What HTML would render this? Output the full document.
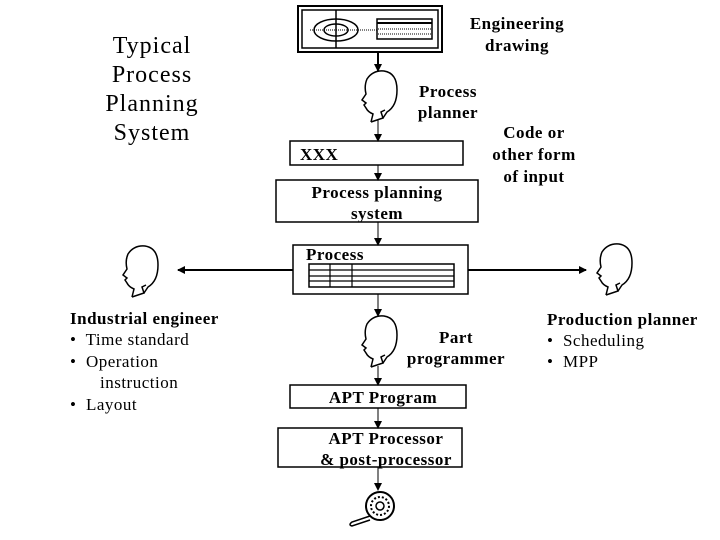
<!DOCTYPE html>
<html><head><style>
body{margin:0;background:#fff;}
svg{display:block;}
text{font-family:"Liberation Serif",serif;fill:#000;}
.b{font-weight:bold;font-size:17px;letter-spacing:0.5px;}
.n{font-size:17px;letter-spacing:0.5px;}
.t{font-size:24px;letter-spacing:1px;}
</style></head><body>
<svg width="720" height="540" viewBox="0 0 720 540" xmlns="http://www.w3.org/2000/svg">
<defs>
<marker id="a" markerWidth="8" markerHeight="8" refX="7" refY="4" orient="auto" markerUnits="userSpaceOnUse"><path d="M0,0 L8,4 L0,8 z" fill="#000"/></marker>
<g id="head" fill="none" stroke="#000" stroke-width="1.5">
<path d="M12,52 L14,44 Q9,42 7,38 L5,35 L7,33 L3,30 L7,24 Q5,16 8,9 Q14,0 25,1 Q38,3 38,20 Q38,36 28,42 L24,48"/>
<path d="M12,52 L24,48 L22,42 L26,40"/>
</g>
</defs>
<text x="152" y="53" text-anchor="middle" class="t">Typical</text>
<text x="152" y="82" text-anchor="middle" class="t">Process</text>
<text x="152" y="111" text-anchor="middle" class="t">Planning</text>
<text x="152" y="140" text-anchor="middle" class="t">System</text>
<rect x="298" y="6" width="144" height="46" fill="none" stroke="#000" stroke-width="2"/>
<rect x="302" y="10" width="136" height="38" fill="none" stroke="#000" stroke-width="1.5"/>
<ellipse cx="336" cy="30" rx="22" ry="11" fill="none" stroke="#000" stroke-width="1.5"/>
<ellipse cx="336" cy="30" rx="12" ry="6" fill="none" stroke="#000" stroke-width="1.5"/>
<line x1="336" y1="10" x2="336" y2="48" stroke="#000" stroke-width="1.5"/>
<line x1="310" y1="30" x2="378" y2="30" stroke="#000" stroke-dasharray="1,1"/>
<rect x="377" y="19" width="55" height="20" fill="none" stroke="#000" stroke-width="1.5"/>
<line x1="377" y1="23" x2="432" y2="23" stroke="#000" stroke-width="2"/>
<line x1="378" y1="29" x2="432" y2="29" stroke="#000" stroke-dasharray="1,1"/>
<line x1="378" y1="34" x2="432" y2="34" stroke="#000" stroke-dasharray="1,1"/>
<text x="517" y="29" text-anchor="middle" class="b">Engineering</text>
<text x="517" y="51" text-anchor="middle" class="b">drawing</text>
<line x1="378" y1="52" x2="378" y2="71" stroke="#000" stroke-width="2" marker-end="url(#a)"/>
<use href="#head" x="359" y="70"/>
<text x="448" y="97" text-anchor="middle" class="b">Process</text>
<text x="448" y="118" text-anchor="middle" class="b">planner</text>
<line x1="378" y1="120" x2="378" y2="141" stroke="#000" marker-end="url(#a)"/>
<rect x="290" y="141" width="173" height="24" fill="none" stroke="#000" stroke-width="1.5"/>
<text x="300" y="160" class="b">XXX</text>
<text x="534" y="138" text-anchor="middle" class="b">Code or</text>
<text x="534" y="160" text-anchor="middle" class="b">other form</text>
<text x="534" y="182" text-anchor="middle" class="b">of input</text>
<line x1="378" y1="165" x2="378" y2="180" stroke="#000" marker-end="url(#a)"/>
<rect x="276" y="180" width="202" height="42" fill="none" stroke="#000" stroke-width="1.5"/>
<text x="377" y="198" text-anchor="middle" class="b">Process planning</text>
<text x="377" y="219" text-anchor="middle" class="b">system</text>
<line x1="378" y1="222" x2="378" y2="245" stroke="#000" marker-end="url(#a)"/>
<rect x="293" y="245" width="175" height="49" fill="none" stroke="#000" stroke-width="1.5"/>
<text x="306" y="260" class="b">Process</text>
<rect x="309" y="264" width="145" height="23" fill="none" stroke="#000" stroke-width="1.5"/>
<line x1="309" y1="270" x2="454" y2="270" stroke="#000" stroke-width="1.2"/>
<line x1="309" y1="276" x2="454" y2="276" stroke="#000" stroke-width="1.2"/>
<line x1="309" y1="281" x2="454" y2="281" stroke="#000" stroke-width="1.2"/>
<line x1="330" y1="264" x2="330" y2="287" stroke="#000" stroke-width="1.2"/>
<line x1="352" y1="264" x2="352" y2="287" stroke="#000" stroke-width="1.2"/>
<line x1="293" y1="270" x2="178" y2="270" stroke="#000" stroke-width="2" marker-end="url(#a)"/>
<line x1="468" y1="270" x2="586" y2="270" stroke="#000" stroke-width="2" marker-end="url(#a)"/>
<use href="#head" x="120" y="245"/>
<use href="#head" x="594" y="243"/>
<text x="70" y="324" class="b">Industrial engineer</text>
<text x="70" y="345" class="n">•&#160; Time standard</text>
<text x="70" y="367" class="n">•&#160; Operation</text>
<text x="100" y="388" class="n">instruction</text>
<text x="70" y="410" class="n">•&#160; Layout</text>
<text x="547" y="325" class="b">Production planner</text>
<text x="547" y="346" class="n">•&#160; Scheduling</text>
<text x="547" y="367" class="n">•&#160; MPP</text>
<line x1="378" y1="294" x2="378" y2="316" stroke="#000" marker-end="url(#a)"/>
<use href="#head" x="359" y="315"/>
<text x="456" y="343" text-anchor="middle" class="b">Part</text>
<text x="456" y="364" text-anchor="middle" class="b">programmer</text>
<line x1="378" y1="366" x2="378" y2="385" stroke="#000" marker-end="url(#a)"/>
<rect x="290" y="385" width="176" height="23" fill="none" stroke="#000" stroke-width="1.5"/>
<text x="383" y="403" text-anchor="middle" class="b">APT Program</text>
<line x1="378" y1="408" x2="378" y2="428" stroke="#000" marker-end="url(#a)"/>
<rect x="278" y="428" width="184" height="39" fill="none" stroke="#000" stroke-width="1.5"/>
<text x="386" y="444" text-anchor="middle" class="b">APT Processor</text>
<text x="386" y="465" text-anchor="middle" class="b">&amp; post-processor</text>
<line x1="378" y1="467" x2="378" y2="490" stroke="#000" marker-end="url(#a)"/>
<circle cx="380" cy="506" r="14" fill="none" stroke="#000" stroke-width="2"/>
<circle cx="380" cy="506" r="9" fill="none" stroke="#000" stroke-width="2" stroke-dasharray="2,2"/>
<circle cx="380" cy="506" r="4" fill="none" stroke="#000" stroke-width="1.5"/>
<path d="M370,516 L352,522 Q348,525 352,526 L370,520" fill="none" stroke="#000" stroke-width="1.5"/>
</svg>
</body></html>
